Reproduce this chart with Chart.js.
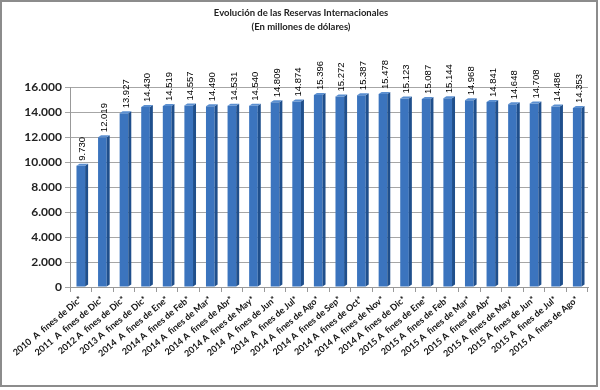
<!DOCTYPE html>
<html>
<head>
<meta charset="utf-8">
<script src="https://cdn.jsdelivr.net/npm/chart.js@4"></script>
<style>
  body { margin: 0; background: #fff; }
</style>
</head>
<body>
<canvas id="grafica" width="600" height="390"></canvas>
<script>
// datos
var categorias = [
  "2010  A  fines de Dic*", "2011  A  fines de Dic*", "2012 A  fines de Dic*", "2013 A  fines de Dic*",
  "2014  A  fines de Ene*", "2014 A  fines de Feb*", "2014 A  fines de Mar*", "2014 A  fines de Abr*",
  "2014 A  fines de May*", "2014  A  fines de Jun*", "2014  A  fines de Jul*", "2014 A  fines de Ago*",
  "2014 A  fines de Sep*", "2014 A  fines de Oct*", "2014 A  fines de Nov*", "2014 A  fines de Dic*",
  "2015 A  fines de Ene*", "2015 A  fines de Feb*", "2015 A  fines de Mar*", "2015 A  fines de Abr*",
  "2015 A  fines de May*", "2015 A  fines de Jun*", "2015 A  fines de Jul*", "2015 A  fines de Ago*"
];
var reservas = [
  9730, 12019, 13927, 14430,
  14519, 14557, 14490, 14531, 14540, 14809, 14874, 15396, 15272, 15387, 15478, 15123,
  15087, 15144, 14968, 14841, 14648, 14708, 14486, 14353
];
var ejeY = [0, 2000, 4000, 6000, 8000, 10000, 12000, 14000, 16000];
var titulo = ["Evolución de las Reservas Internacionales", "(En millones de dólares)"];

function miles(v) {
  return String(v).replace(/\B(?=(\d{3})+(?!\d))/g, ".");
}

// marco gris
var marco = {
  id: "marco",
  beforeDraw: function (chart) {
    var ctx = chart.ctx;
    ctx.save();
    ctx.fillStyle = "#fff";
    ctx.fillRect(0, 0, 600, 390);
    ctx.strokeStyle = "#8c8c8c";
    ctx.lineWidth = 2;
    ctx.strokeRect(1, 1, 596, 385);
    ctx.restore();
  }
};

// lado oscuro y tapa de cada barra (efecto 3D) + valores
var barras3d = {
  id: "barras3d",
  afterDatasetsDraw: function (chart) {
    var ctx = chart.ctx;
    var meta = chart.getDatasetMeta(0);
    ctx.save();
    meta.data.forEach(function (bar, i) {
      var izq = bar.x - bar.width / 2;
      var der = bar.x + bar.width / 2;
      var arriba = bar.y;
      var base = bar.base;
      ctx.fillStyle = "#1f4f8c";
      ctx.beginPath();
      ctx.moveTo(der, arriba);
      ctx.lineTo(der + 3, arriba - 2);
      ctx.lineTo(der + 3, base - 2);
      ctx.lineTo(der, base);
      ctx.closePath();
      ctx.fill();
      ctx.fillStyle = "#5b8fd0";
      ctx.beginPath();
      ctx.moveTo(izq, arriba);
      ctx.lineTo(izq + 3, arriba - 2);
      ctx.lineTo(der + 3, arriba - 2);
      ctx.lineTo(der, arriba);
      ctx.closePath();
      ctx.fill();
      ctx.save();
      ctx.translate(bar.x + 2, arriba - 5);
      ctx.rotate(-Math.PI / 2);
      ctx.fillStyle = "#000";
      ctx.font = "9.5px 'Liberation Sans'";
      ctx.textAlign = "left";
      ctx.textBaseline = "middle";
      ctx.fillText(miles(reservas[i]), 0, 0);
      ctx.restore();
    });
    ctx.restore();
  }
};

new Chart("grafica", {
  type: "bar",
  data: {
    labels: categorias,
    datasets: [{
      data: reservas,
      backgroundColor: "#3b74be",
      borderWidth: 0,
      barPercentage: 0.4,
      categoryPercentage: 1
    }]
  },
  options: {
    responsive: false,
    animation: false,
    layout: { padding: { left: 14, right: 12, top: 0, bottom: 0 } },
    plugins: {
      legend: { display: false },
      tooltip: { enabled: false },
      title: {
        display: true,
        text: titulo,
        color: "#222",
        font: { family: "Lato", size: 9.5, weight: "bold", lineHeight: 1.5 },
        padding: { top: 6, bottom: 53 }
      }
    },
    scales: {
      x: {
        grid: { display: true, drawOnChartArea: false, color: "#999", tickLength: 5, offset: true },
        border: { color: "#999" },
        ticks: {
          color: "#111",
          font: { family: "Lato", size: 9, weight: "bold" },
          minRotation: 40,
          maxRotation: 40,
          autoSkip: false,
          padding: 2
        },
        afterFit: function (s) { s.height = 103; }
      },
      y: {
        min: ejeY[0],
        max: ejeY[ejeY.length - 1],
        afterBuildTicks: function (s) {
          s.ticks = ejeY.map(function (v) { return { value: v }; });
        },
        grid: { color: "#a6a6a6", tickLength: 5 },
        border: { color: "#999" },
        ticks: {
          color: "#222",
          font: { family: "Lato", size: 12, weight: "bold" },
          padding: 3,
          callback: function (v) { return miles(v); }
        },
        afterFit: function (s) { s.width = 56; }
      }
    }
  },
  plugins: [marco, barras3d]
});
</script>
</body>
</html>
